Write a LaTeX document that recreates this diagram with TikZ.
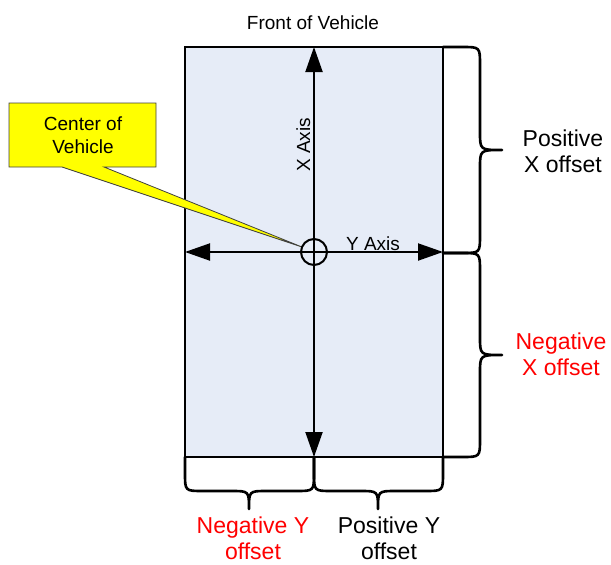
\documentclass[tikz,border=0pt]{standalone}
\usepackage{fontspec}
\setmainfont{Liberation Sans}
\usetikzlibrary{arrows.meta}
\definecolor{vehblue}{RGB}{230,236,247}
\definecolor{callyellow}{RGB}{255,255,0}
\definecolor{offred}{RGB}{255,0,0}
\begin{document}
\begin{tikzpicture}[x=1pt,y=-1pt,
  axisline/.style={line width=2pt, {Triangle[length=25pt,width=17pt]}-{Triangle[length=25pt,width=17pt]}},
  bracepath/.style={line width=2.6pt, line join=round, line cap=round},
  lbl/.style={inner sep=0pt, align=center, font=\fontsize{23}{26}\selectfont},
  smalltxt/.style={inner sep=0pt, align=center, font=\fontsize{19}{23}\selectfont}]
\useasboundingbox (0,0) rectangle (611,565);

% vehicle body
\node[draw=black, fill=vehblue, line width=2pt, minimum width=258pt, minimum height=410pt,
      inner sep=0pt, outer sep=0pt] (veh) at (314,252) {};

% axes
\draw[axisline] (veh.north) -- (veh.south);
\draw[axisline] (veh.west) -- (veh.east);

% callout
\coordinate (ptip) at (302,247);
\draw[fill=callyellow, draw=black!75, line width=0.8pt, line join=miter]
  (9,103) -- (156,103) -- (156,167) -- (104,167) -- (ptip) -- (62,167) -- (9,167) -- cycle;
\node[smalltxt] (cv) at (83,135) {Center of\\Vehicle};

% centre circle
\node[circle, draw=black, line width=2pt, minimum size=26pt, inner sep=0pt] (ctr) at (veh.center) {};

% right braces
\draw[bracepath] (443,47) -- (462,47) .. controls (480,47) .. (480,65) -- (480,132)
  .. controls (480,150) .. (502,150) .. controls (480,150) .. (480,168) -- (480,235)
  .. controls (480,253) .. (462,253) -- (443,253);
\draw[bracepath] (443,253) -- (462,253) .. controls (480,253) .. (480,271) -- (480,337)
  .. controls (480,355) .. (502,355) .. controls (480,355) .. (480,373) -- (480,439)
  .. controls (480,457) .. (462,457) -- (443,457);

% bottom braces
\draw[bracepath] (185,457) -- (185,473) .. controls (185,491) .. (203,491) -- (231,491)
  .. controls (249,491) .. (249,509) .. controls (249,491) .. (267,491) -- (296,491)
  .. controls (314,491) .. (314,473) -- (314,457);
\draw[bracepath] (314,457) -- (314,473) .. controls (314,491) .. (332,491) -- (360,491)
  .. controls (378,491) .. (378,509) .. controls (378,491) .. (396,491) -- (425,491)
  .. controls (443,491) .. (443,473) -- (443,457);

% texts
\node[smalltxt, anchor=base] (front) at (313,29) {Front of Vehicle};
\node[smalltxt, rotate=90, anchor=base] (xax) at (310,145) {X Axis};
\node[smalltxt, anchor=base] (yax) at (373,250) {Y Axis};
\node[lbl] (posx) at (563,151) {Positive\\X offset};
\node[lbl, text=offred] (negx) at (561,354) {Negative\\X offset};
\node[lbl, text=offred] (negy) at (253,538) {Negative Y\\offset};
\node[lbl] (posy) at (389,538) {Positive Y\\offset};
\end{tikzpicture}
\end{document}
